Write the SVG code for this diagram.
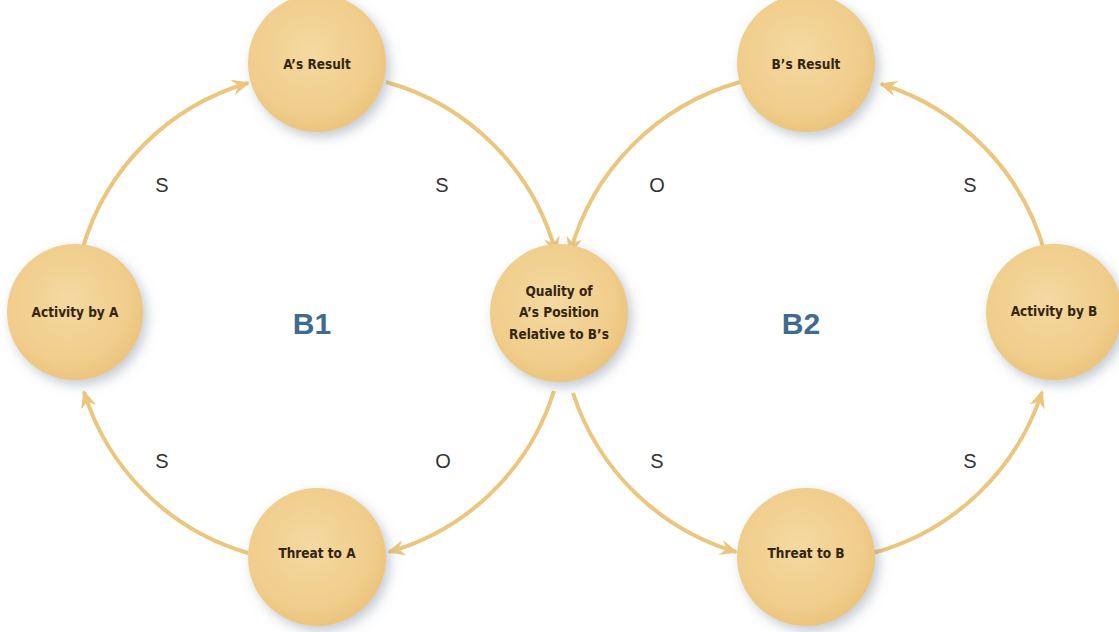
<svg xmlns="http://www.w3.org/2000/svg" width="1119" height="632" viewBox="0 0 1119 632">
  <defs>
    <radialGradient id="ball" cx="45%" cy="42%" r="60%">
      <stop offset="0" stop-color="#F4D9A1"/>
      <stop offset="0.75" stop-color="#F0CD8B"/>
      <stop offset="1" stop-color="#EBC47D"/>
    </radialGradient>
    <filter id="shadow" x="-30%" y="-30%" width="160%" height="160%">
      <feDropShadow dx="4" dy="5" stdDeviation="6" flood-color="#8a95a3" flood-opacity="0.5"/>
    </filter>
    <marker id="arrow" viewBox="-19 -9 21 18" refX="-2" refY="0" markerWidth="21" markerHeight="18" markerUnits="userSpaceOnUse" orient="auto">
      <path d="M0,0 L-18,-8 L-12,0 L-18,8 Z" fill="#EBC67E"/>
    </marker>
  </defs>
  <style>
    .node circle { fill: url(#ball); filter: url(#shadow); }
    .node text { font-family: "DejaVu Sans Condensed", "Liberation Sans", sans-serif; font-weight: bold; font-size: 13.5px; fill: #33240F; text-anchor: middle; }
    .link { fill: none; stroke: #EBC67E; stroke-width: 4; marker-end: url(#arrow); }
    .pol { font-family: "Liberation Sans", Arial, sans-serif; font-size: 20px; fill: #333333; text-anchor: middle; }
    .loop { font-family: "Liberation Sans", Arial, sans-serif; font-size: 30px; font-weight: bold; fill: #3E6B8E; text-anchor: middle; }
  </style>

  <rect width="1119" height="632" fill="#ffffff"/>

  <!-- connectors -->
  <g id="connectors">
    <!-- loop B1 (clockwise) -->
    <path class="link" d="M83,247 A243,243 0 0 1 248,83"/>
    <path class="link" d="M386,82 A243,243 0 0 1 556,253"/>
    <path class="link" d="M554,391 A243,243 0 0 1 389,552"/>
    <path class="link" d="M248,553 A243,243 0 0 1 84,392"/>
    <!-- loop B2 (counter-clockwise) -->
    <path class="link" d="M740,82 A245,245 0 0 0 570,253"/>
    <path class="link" d="M1045,253 A245,245 0 0 0 881,84"/>
    <path class="link" d="M573,393 A245,245 0 0 0 736,552"/>
    <path class="link" d="M873,553 A245,245 0 0 0 1042,392"/>
  </g>

  <!-- polarity labels -->
  <g id="polarities">
    <text class="pol" x="162" y="192">S</text>
    <text class="pol" x="442" y="192">S</text>
    <text class="pol" x="657" y="192">O</text>
    <text class="pol" x="970" y="192">S</text>
    <text class="pol" x="162" y="468">S</text>
    <text class="pol" x="443" y="468">O</text>
    <text class="pol" x="657" y="468">S</text>
    <text class="pol" x="970" y="468">S</text>
  </g>

  <!-- loop names -->
  <text class="loop" x="312" y="334">B1</text>
  <text class="loop" x="801" y="334">B2</text>

  <!-- nodes -->
  <g id="a-result" class="node">
    <circle cx="317" cy="63" r="69"/>
    <text x="317" y="69">A’s Result</text>
  </g>
  <g id="b-result" class="node">
    <circle cx="806" cy="63" r="69"/>
    <text x="806" y="69">B’s Result</text>
  </g>
  <g id="activity-a" class="node">
    <circle cx="75" cy="312" r="68"/>
    <text x="75" y="317">Activity by A</text>
  </g>
  <g id="activity-b" class="node">
    <circle cx="1054" cy="312" r="68"/>
    <text x="1054" y="316">Activity by B</text>
  </g>
  <g id="quality" class="node">
    <circle cx="559" cy="313" r="69"/>
    <text x="559" y="296">Quality of</text>
    <text x="559" y="317">A’s Position</text>
    <text x="559" y="339">Relative to B’s</text>
  </g>
  <g id="threat-a" class="node">
    <circle cx="317" cy="557" r="69"/>
    <text x="317" y="558">Threat to A</text>
  </g>
  <g id="threat-b" class="node">
    <circle cx="806" cy="557" r="69"/>
    <text x="806" y="558">Threat to B</text>
  </g>
</svg>
